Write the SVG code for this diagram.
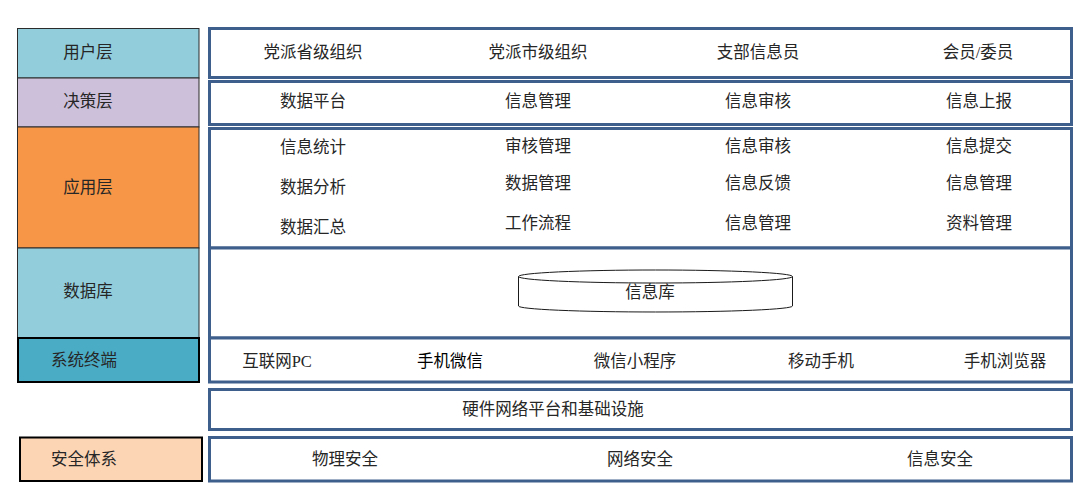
<svg xmlns="http://www.w3.org/2000/svg" width="1085" height="496" viewBox="0 0 1085 496">
<style>
text{font-family:"Liberation Serif","Noto Sans CJK SC",serif;font-size:16.5px;fill:#262626;text-anchor:middle;dominant-baseline:central}
.lay{stroke:#2b2b2b;stroke-width:1}
.box{fill:#ffffff;stroke:#3e5f8b;stroke-width:3}
.blk{stroke:#000;stroke-width:2}
</style>
<rect width="1085" height="496" fill="#ffffff"/>
<g id="left-layers">
<g id="layer-user"><rect class="lay" x="17.5" y="28.5" width="181.5" height="49.5" fill="#92cddc"/><text x="88" y="52">用户层</text></g>
<g id="layer-decision"><rect class="lay" x="17.5" y="78" width="181.5" height="49" fill="#ccc0da"/><text x="88" y="101">决策层</text></g>
<g id="layer-app"><rect class="lay" x="17.5" y="127" width="181.5" height="121" fill="#f79646"/><text x="88" y="187">应用层</text></g>
<g id="layer-db"><rect class="lay" x="17.5" y="248" width="181.5" height="90" fill="#92cddc"/><text x="88" y="291">数据库</text></g>
<g id="layer-terminal"><rect class="blk" x="18" y="338" width="181" height="44" fill="#4bacc6"/><text x="84" y="360">系统终端</text></g>
<g id="layer-security"><rect class="blk" x="20" y="437.5" width="182" height="43.5" fill="#fcd5b5"/><text x="84" y="459">安全体系</text></g>
</g>
<g id="row-user">
<rect class="box" x="209.5" y="28.5" width="862" height="49"/>
<text x="313" y="52">党派省级组织</text>
<text x="538" y="52">党派市级组织</text>
<text x="758" y="52">支部信息员</text>
<text x="978" y="52">会员/委员</text>
</g>
<g id="row-decision">
<rect class="box" x="209.5" y="81.5" width="862" height="43"/>
<text x="313" y="101">数据平台</text>
<text x="538" y="101">信息管理</text>
<text x="758" y="101">信息审核</text>
<text x="979" y="101">信息上报</text>
</g>
<g id="row-app">
<rect class="box" x="209.5" y="128.5" width="862" height="119.5"/>
<text x="313" y="147">信息统计</text>
<text x="313" y="187">数据分析</text>
<text x="313" y="227">数据汇总</text>
<text x="538" y="146">审核管理</text>
<text x="538" y="183">数据管理</text>
<text x="538" y="223">工作流程</text>
<text x="758" y="146">信息审核</text>
<text x="758" y="183">信息反馈</text>
<text x="758" y="223">信息管理</text>
<text x="979" y="146">信息提交</text>
<text x="979" y="183">信息管理</text>
<text x="979" y="223">资料管理</text>
</g>
<g id="row-db">
<rect class="box" x="209.5" y="248" width="862" height="90"/>
<g id="cylinder">
<path d="M518.5,276.5 L518.5,306 A137,6 0 0 0 792.5,306 L792.5,276.5" fill="#ffffff" stroke="#1a1a1a" stroke-width="1"/>
<ellipse cx="655.5" cy="276.5" rx="137" ry="6.5" fill="#ffffff" stroke="#1a1a1a" stroke-width="1"/>
<text x="650" y="292">信息库</text>
</g>
</g>
<g id="row-terminal">
<rect class="box" x="209.5" y="338" width="862" height="44"/>
<text x="277" y="361">互联网PC</text>
<text x="450" y="361" style="fill:#000">手机微信</text>
<text x="635" y="361">微信小程序</text>
<text x="821" y="361">移动手机</text>
<text x="1005" y="361">手机浏览器</text>
</g>
<g id="row-hardware">
<rect class="box" x="209.5" y="389.5" width="862" height="40"/>
<text x="553" y="409">硬件网络平台和基础设施</text>
</g>
<g id="row-security">
<rect class="box" x="209.5" y="437.5" width="862" height="43.5"/>
<text x="345" y="459">物理安全</text>
<text x="640" y="459">网络安全</text>
<text x="940" y="459">信息安全</text>
</g>
<g id="connectors"></g>
</svg>
